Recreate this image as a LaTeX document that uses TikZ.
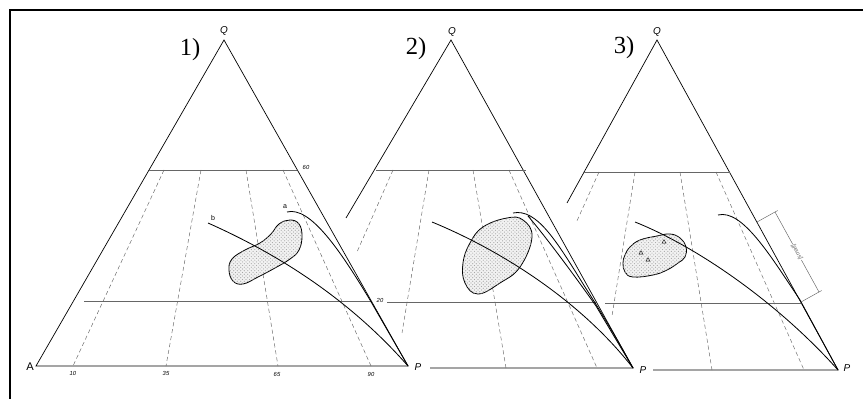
\documentclass[tikz,border=0pt]{standalone}
\usepackage{fontspec}
\setmainfont{Liberation Serif}
\setsansfont{Liberation Sans}
\usetikzlibrary{patterns,shapes.geometric,calc}

\tikzset{
  side/.style={line width=0.6pt},
  level/.style={line width=0.5pt,gray!80!black},
  ratio/.style={dashed,dash pattern=on 3.5pt off 2.5pt,line width=0.4pt,gray!80!black},
  trend/.style={line width=0.7pt},
  blob/.style={line width=0.7pt,fill=gray!10,postaction={pattern=crosshatch dots,pattern color=gray!70}},
  grain/.style={draw,regular polygon,regular polygon sides=3,minimum size=4pt,inner sep=0pt,line width=0.3pt},
  num/.style={font=\sffamily\itshape\fontsize{5}{6}\selectfont,inner sep=0pt},
  apex/.style={font=\sffamily\itshape\fontsize{8.5}{9}\selectfont,inner sep=0pt},
  tag/.style={font=\fontsize{21}{24}\selectfont,inner sep=0pt}
}

\begin{document}
\begin{tikzpicture}[x=0.03cm,y=-0.03cm]
\useasboundingbox (0,0) rectangle (863,399);
\clip (0,0) rectangle (863,399);
\draw[line width=1.6pt] (10,420) -- (10,10) -- (880,10);

% 1) full triangle
\coordinate (A1) at (36,366);
\coordinate (P1) at (408,366);
\coordinate (Q1) at (224,40);
\draw[side] (A1) -- (Q1) -- (P1) -- cycle;
\draw[level] (149,170) -- (297,170);
\draw[level] (84,301) -- (371,301);
\draw[ratio] (164,170) -- (73,366);
\draw[ratio] (201,170) -- (166,366);
\draw[ratio] (246,170) -- (278,366);
\draw[ratio] (283,170) -- (371,366);
\node[tag] (t1) at (190,50) {1)};
\node[apex] (q1) at (224,31) {Q};
\node[font=\sffamily\fontsize{9.5}{10}\selectfont,inner sep=0pt] (a1) at (30,367) {A};
\node[apex] (p1) at (418,367) {P};
\node[num] (n60) at (306,167) {60};
\node[num] (n20) at (380,300) {20};
\node[num] (n10) at (73,373) {10};
\node[num] (n35) at (166,373) {35};
\node[num] (n65) at (277,374) {65};
\node[num] (n90) at (371,374) {90};
\draw[blob] plot[smooth cycle,tension=0.7] coordinates {(290,220) (299,224) (302,236) (299,250) (290,259) (275,268) (258,277) (243,284) (233,281) (229,270) (232,259) (245,250) (260,243) (271,234) (279,224)};
\draw[trend] (287,212) .. controls (310,206) and (340,250) .. (370,300) -- (P1);
\draw[trend] (208,223) .. controls (280,255) and (350,300) .. (P1);
\node[num,font=\sffamily\fontsize{6}{7}\selectfont] (la) at (285,207) {a};
\node[num,font=\sffamily\fontsize{6}{7}\selectfont] (lb) at (213,218) {b};

% 2) cut by the first one
\coordinate (P2) at (633,368);
\coordinate (Q2) at (451,40);
\draw[side] (346,218) -- (Q2) -- (P2) -- (430,368);
\draw[level] (376,170) -- (526,170);
\draw[level] (387,302) -- (596,302);
\draw[ratio] (393,170) -- (357,252);
\draw[ratio] (429,170) -- (402,333);
\draw[ratio] (473,170) -- (506,368);
\draw[ratio] (509,170) -- (597,368);
\node[tag] (t2) at (416,49) {2)};
\node[apex] (q2) at (452,32) {Q};
\node[apex] (p2) at (643,370) {P};
\draw[blob] plot[smooth cycle,tension=0.7] coordinates {(507,218) (523,220) (532,237) (520,267) (500,283) (478,294) (465,283) (463,263) (470,243) (483,227)};
\draw[trend] (513,213) .. controls (537,208) and (557,242) .. (585,287) .. controls (605,318) and (622,348) .. (P2);
\draw[trend] (528,216) .. controls (545,236) and (572,272) .. (596,306) -- (P2);
\draw[trend] (432,222) .. controls (500,250) and (580,300) .. (P2);

% 3) cut by the second one
\coordinate (P3) at (838,370);
\coordinate (Q3) at (657,40);
\draw[side] (567,203) -- (Q3) -- (P3) -- (653,370);
\draw[level] (584,172) -- (730,172);
\draw[level] (605,303) -- (802,303);
\draw[ratio] (599,172) -- (576,223);
\draw[ratio] (635,172) -- (612,316);
\draw[ratio] (680,172) -- (712,370);
\draw[ratio] (716,172) -- (804,370);
\node[tag] (t3) at (624,48) {3)};
\node[apex] (q3) at (657,32) {Q};
\node[apex] (p3) at (847,368) {P};
\draw[blob] plot[smooth cycle,tension=0.7] coordinates {(630,247) (640,240) (657,236) (670,234) (680,238) (686,247) (685,257) (678,263) (667,270) (653,275) (633,277) (625,272) (623,263) (625,255)};
\node[grain] (g1) at (664,242) {};
\node[grain] (g2) at (641,253) {};
\node[grain] (g3) at (648,260) {};
\draw[trend] (718,215) .. controls (742,209) and (770,255) .. (800,300) -- (P3);
\draw[trend] (635,222) .. controls (700,248) and (780,305) .. (P3);
% span along the right side
\coordinate (s1) at (757,222);
\coordinate (s2) at (801,302);
\coordinate (d1) at (775,212);
\coordinate (d2) at (819,292);
\draw[level,line width=0.4pt] (s1) -- ($(s1)!1.15!(d1)$);
\draw[level,line width=0.4pt] (s2) -- ($(s2)!1.15!(d2)$);
\draw[level,line width=0.4pt] (d1) -- (d2)
  node[midway,sloped,fill=white,inner sep=0.5pt,rotate=180,font=\sffamily\itshape\fontsize{5}{6}\selectfont] (sm) {[small]};
\end{tikzpicture}
\end{document}
